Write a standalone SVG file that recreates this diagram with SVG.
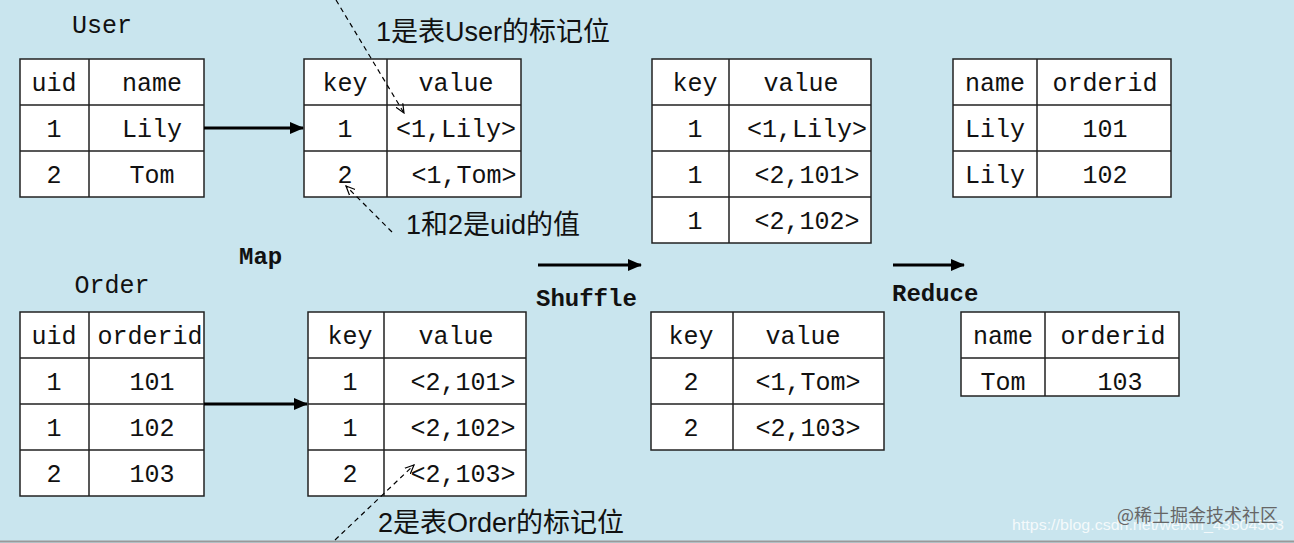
<svg xmlns="http://www.w3.org/2000/svg" width="1294" height="543" viewBox="0 0 1294 543">
<defs>
<style>
.c{fill:#fff;stroke:#222;stroke-width:1.5}
.l{stroke:#222;stroke-width:1.5}
.t{font-family:"Liberation Mono","Noto Sans CJK SC",monospace;font-size:25px;fill:#111;text-anchor:middle}
.b{font-family:"Liberation Mono",monospace;font-size:24px;font-weight:bold;fill:#111}
.z{font-family:"Liberation Sans","Noto Sans CJK SC",sans-serif;font-size:27px;fill:#111}
.a{stroke:#000;stroke-width:3;fill:none;marker-end:url(#ah)}
.d{stroke:#000;stroke-width:1.2;stroke-dasharray:5,4;fill:none;marker-end:url(#oh)}
</style>
<marker id="ah" markerWidth="14" markerHeight="12" refX="13" refY="6" orient="auto" markerUnits="userSpaceOnUse" viewBox="0 0 14 12"><path d="M0,0L14,6L0,12z" fill="#000"/></marker>
<marker id="oh" markerWidth="10" markerHeight="10" refX="9" refY="5" orient="auto" markerUnits="userSpaceOnUse" viewBox="0 0 10 10"><path d="M0,1L9,5L0,9" fill="none" stroke="#000" stroke-width="1.2"/></marker>
</defs>
<rect width="1294" height="543" fill="#c9e5ee"/>
<line x1="0" y1="541.5" x2="1294" y2="541.5" stroke="#999" stroke-width="2"/>
<text class="t" x="102" y="33">User</text>
<text class="t" x="112" y="293">Order</text>
<g id="user">
<rect class="c" x="20" y="59" width="184" height="138"/>
<path class="l" d="M89,59V197M20,105H204M20,151H204"/>
<text class="t" x="54" y="91">uid</text><text class="t" x="152" y="91">name</text>
<text class="t" x="54" y="137">1</text><text class="t" x="152" y="137">Lily</text>
<text class="t" x="54" y="183">2</text><text class="t" x="152" y="183">Tom</text>
</g>
<g id="map-user">
<rect class="c" x="304" y="59" width="217" height="138"/>
<path class="l" d="M387,59V197M304,105H521M304,151H521"/>
<text class="t" x="345" y="91">key</text><text class="t" x="456" y="91">value</text>
<text class="t" x="345" y="137">1</text><text class="t" x="456" y="137">&lt;1,Lily&gt;</text>
<text class="t" x="345" y="183">2</text><text class="t" x="464" y="183">&lt;1,Tom&gt;</text>
</g>
<g id="shuffle-1">
<rect class="c" x="652" y="59" width="219" height="184"/>
<path class="l" d="M729,59V243M652,105H871M652,151H871M652,197H871"/>
<text class="t" x="695" y="91">key</text><text class="t" x="801" y="91">value</text>
<text class="t" x="695" y="137">1</text><text class="t" x="807" y="137">&lt;1,Lily&gt;</text>
<text class="t" x="695" y="183">1</text><text class="t" x="807" y="183">&lt;2,101&gt;</text>
<text class="t" x="695" y="229">1</text><text class="t" x="807" y="229">&lt;2,102&gt;</text>
</g>
<g id="reduce-1">
<rect class="c" x="953" y="59" width="218" height="138"/>
<path class="l" d="M1037,59V197M953,105H1171M953,151H1171"/>
<text class="t" x="995" y="91">name</text><text class="t" x="1105" y="91">orderid</text>
<text class="t" x="995" y="137">Lily</text><text class="t" x="1105" y="137">101</text>
<text class="t" x="995" y="183">Lily</text><text class="t" x="1105" y="183">102</text>
</g>
<g id="order">
<rect class="c" x="20" y="312" width="184" height="184"/>
<path class="l" d="M89,312V496M20,358H204M20,404H204M20,450H204"/>
<text class="t" x="54" y="344">uid</text><text class="t" x="150" y="344">orderid</text>
<text class="t" x="54" y="390">1</text><text class="t" x="152" y="390">101</text>
<text class="t" x="54" y="436">1</text><text class="t" x="152" y="436">102</text>
<text class="t" x="54" y="482">2</text><text class="t" x="152" y="482">103</text>
</g>
<g id="map-order">
<rect class="c" x="308" y="312" width="218" height="184"/>
<path class="l" d="M384,312V496M308,358H526M308,404H526M308,450H526"/>
<text class="t" x="350" y="344">key</text><text class="t" x="456" y="344">value</text>
<text class="t" x="350" y="390">1</text><text class="t" x="463" y="390">&lt;2,101&gt;</text>
<text class="t" x="350" y="436">1</text><text class="t" x="463" y="436">&lt;2,102&gt;</text>
<text class="t" x="350" y="482">2</text><text class="t" x="463" y="482">&lt;2,103&gt;</text>
</g>
<g id="shuffle-2">
<rect class="c" x="651" y="312" width="233" height="138"/>
<path class="l" d="M733,312V450M651,358H884M651,404H884"/>
<text class="t" x="691" y="344">key</text><text class="t" x="803" y="344">value</text>
<text class="t" x="691" y="390">2</text><text class="t" x="808" y="390">&lt;1,Tom&gt;</text>
<text class="t" x="691" y="436">2</text><text class="t" x="808" y="436">&lt;2,103&gt;</text>
</g>
<g id="reduce-2">
<rect class="c" x="961" y="312" width="218" height="84"/>
<path class="l" d="M1045,312V396M961,358H1179"/>
<text class="t" x="1003" y="344">name</text><text class="t" x="1113" y="344">orderid</text>
<text class="t" x="1003" y="390">Tom</text><text class="t" x="1120" y="390">103</text>
</g>
<g id="connectors">
<line class="a" x1="204" y1="128" x2="303" y2="128"/>
<line class="a" x1="204" y1="404" x2="307" y2="404"/>
<line class="a" x1="538" y1="265" x2="641" y2="265"/>
<line class="a" x1="893" y1="265" x2="964" y2="265"/>
<line class="d" x1="336" y1="0" x2="404" y2="113"/>
<line class="d" x1="392" y1="232" x2="346" y2="186"/>
<line class="d" x1="335" y1="540" x2="414" y2="465"/>
</g>
<text class="b" x="239" y="264">Map</text>
<text class="b" x="536" y="306">Shuffle</text>
<text class="b" x="892" y="301">Reduce</text>
<text class="z" x="376" y="41">1是表User的标记位</text>
<text class="z" x="406" y="234">1和2是uid的值</text>
<text class="z" x="378" y="532">2是表Order的标记位</text>
<text x="1012" y="530" font-family="Liberation Sans,sans-serif" font-size="15" fill="#fff" opacity="0.8" textLength="272" lengthAdjust="spacingAndGlyphs">https://blog.csdn.net/weixin_43504563</text>
<text x="1117" y="522" font-family="Noto Sans CJK SC,sans-serif" font-size="18" fill="#666">@稀土掘金技术社区</text>
</svg>
